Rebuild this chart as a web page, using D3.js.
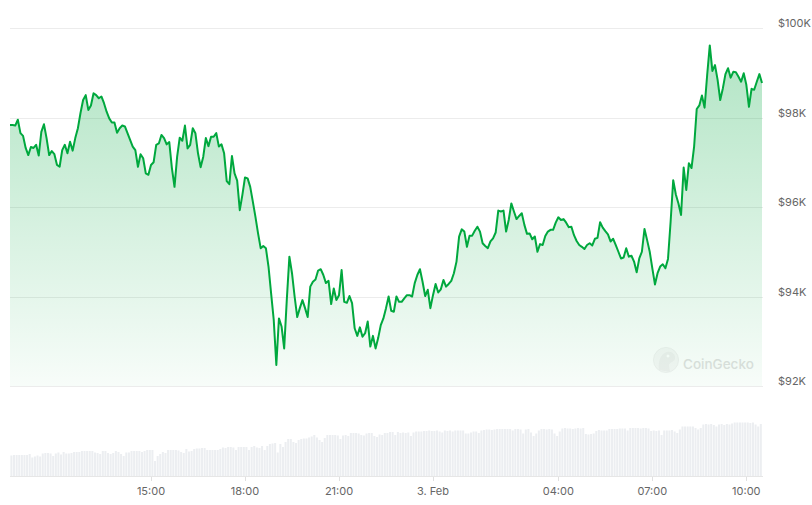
<!DOCTYPE html>
<html>
<head>
<meta charset="utf-8">
<script src="https://cdn.jsdelivr.net/npm/d3@7"></script>
<style>
  body { margin: 0; background: #fff; }
  text { font-family: Inter, "Noto Sans", sans-serif; }
</style>
</head>
<body>
<div id="chart"></div>
<script>
// BTC price, 5 minute steps from 2 Feb 10:30 to 3 Feb 10:30
var prices = [
  97830, 97830, 97820, 97950, 97650, 97590, 97320, 97160, 97340, 97320,
  97390, 97150, 97680, 97850, 97540, 97160, 97250, 97180, 96940, 96900,
  97270, 97390, 97200, 97460, 97260, 97540, 97760, 98100, 98390, 98500,
  98170, 98270, 98540, 98500, 98430, 98470, 98320, 98130, 97980, 97890,
  97890, 97660, 97760, 97820, 97800, 97650, 97500, 97350, 97270, 96900,
  97180, 97090, 96750, 96720, 96940, 97000, 97390, 97420, 97610, 97540,
  97400, 97450, 96870, 96450, 97120, 97550, 97480, 97820, 97310, 97390,
  97760, 97650, 97200, 96890, 97120, 97540, 97360, 97570, 97570, 97650,
  97350, 97400, 97200, 96580, 96510, 97140, 96750, 96590, 95930, 96270,
  96660, 96640, 96450, 96120, 95780, 95410, 95080, 95130, 95080, 94670,
  94070, 93480, 92470, 93510, 93330, 92840, 93920, 94890, 94520, 94000,
  93540, 93740, 93920, 93740, 93540, 94220, 94330, 94380, 94580, 94610,
  94480, 94300, 94350, 93830, 94180, 93920, 94030, 94590, 93880, 93860,
  94010, 93850, 93290, 93120, 93310, 93100, 93180, 93440, 92880, 93120,
  92840, 93070, 93360, 93510, 93740, 94000, 93680, 93660, 94000, 93880,
  93880, 93960, 94030, 94030, 94000, 94300, 94480, 94610, 94330, 94010,
  94150, 93740, 94030, 94280, 94090, 94160, 94370, 94220, 94280, 94350,
  94520, 94780, 95340, 95500, 95450, 95110, 95360, 95360, 95470, 95560,
  95450, 95190, 95130, 95080, 95230, 95300, 95430, 95920, 95900, 95920,
  95450, 95710, 96080, 95900, 95730, 95800, 95860, 95600, 95400, 95410,
  95280, 95340, 95000, 95170, 95150, 95350, 95450, 95490, 95490, 95650,
  95770, 95710, 95730, 95650, 95550, 95560, 95370, 95240, 95150, 95110,
  95060, 95150, 95190, 95140, 95290, 95310, 95660, 95540, 95460, 95390,
  95230, 95290, 95150, 95000, 94850, 94870, 95080, 94890, 94910, 94780,
  94540, 94850, 95000, 95510, 95260, 95000, 94630, 94270, 94520, 94670,
  94720, 94630, 94840, 95670, 96600, 96280, 96080, 95820, 96880, 96380,
  96980, 96870, 97350, 98190, 98270, 98490, 98220, 98950, 99610, 99040,
  99170, 98840, 98390, 98650, 98970, 99100, 98890, 99020, 99010, 98910,
  98800, 98990, 98730, 98240, 98640, 98620, 98800, 98970, 98770
];

// 24h volume (billion USD), one bar per 5 minutes
var volumes = [
  42, 43, 43, 43, 43, 43, 43, 45, 38, 40,
  42, 40, 46, 47, 47, 46, 41, 46, 48, 44,
  49, 46, 46, 47, 49, 49, 49, 51, 51, 51,
  51, 51, 48, 47, 45, 51, 51, 47, 45, 47,
  51, 49, 45, 41, 48, 48, 51, 51, 51, 51,
  49, 51, 53, 53, 53, 31, 41, 45, 49, 47,
  53, 53, 53, 53, 52, 49, 47, 55, 50, 51,
  55, 56, 56, 57, 57, 53, 53, 53, 53, 53,
  55, 58, 57, 59, 59, 58, 53, 59, 59, 59,
  59, 53, 59, 61, 58, 57, 61, 53, 61, 65,
  66, 67, 48, 65, 59, 69, 75, 75, 69, 67,
  73, 75, 76, 76, 78, 80, 83, 78, 73, 69,
  77, 83, 83, 83, 83, 82, 75, 82, 83, 81,
  87, 87, 87, 86, 83, 82, 86, 87, 87, 81,
  79, 84, 83, 87, 87, 89, 89, 83, 89, 87,
  88, 87, 88, 81, 88, 90, 90, 90, 91, 91,
  92, 91, 91, 92, 90, 88, 92, 91, 92, 90,
  92, 92, 92, 92, 86, 86, 88, 90, 90, 87,
  92, 93, 94, 94, 93, 94, 95, 95, 95, 95,
  95, 95, 92, 95, 95, 94, 86, 94, 95, 88,
  81, 86, 92, 95, 95, 94, 95, 94, 86, 81,
  90, 96, 97, 96, 96, 95, 96, 97, 96, 97,
  85, 84, 85, 86, 91, 93, 92, 92, 92, 95,
  95, 95, 95, 96, 96, 96, 92, 97, 97, 97,
  97, 96, 97, 97, 96, 91, 92, 91, 92, 83,
  92, 92, 92, 93, 90, 87, 94, 100, 100, 100,
  100, 100, 97, 94, 97, 104, 105, 104, 105, 103,
  100, 104, 105, 103, 105, 104, 106, 108, 108, 108,
  108, 108, 108, 107, 108, 104, 100, 105
];

var yTicks = [92000, 94000, 96000, 98000, 100000];
var xTickTimes = ["2025-02-02T15:00", "2025-02-02T18:00", "2025-02-02T21:00",
  "2025-02-03T00:00", "2025-02-03T04:00", "2025-02-03T07:00", "2025-02-03T10:00"];
var xTickLabels = ["15:00", "18:00", "21:00", "3. Feb", "04:00", "07:00", "10:00"];

var startTime = new Date("2025-02-02T10:30");
var endTime = new Date("2025-02-03T10:30");
var step = 5 * 60 * 1000;

var svgWidth = 812;
var svgHeight = 505;

var svg = d3
  .select("#chart")
  .append("svg")
  .attr("width", svgWidth)
  .attr("height", svgHeight);

var xScale = d3.scaleTime().domain([startTime, endTime]).range([10, 762]);
var yScale = d3.scaleLinear().domain([92000, 100000]).range([386, 28]);
var volScale = d3.scaleLinear().domain([0, 150]).range([476.5, 401.5]);

var timeAt = (i) => new Date(startTime.getTime() + i * step);

var defs = svg.append("defs");
var grad = defs
  .append("linearGradient")
  .attr("id", "fillGrad")
  .attr("gradientUnits", "userSpaceOnUse")
  .attr("x1", 0)
  .attr("y1", 28)
  .attr("x2", 0)
  .attr("y2", 386);
grad.append("stop").attr("offset", "0%").attr("stop-color", "#00a83e").attr("stop-opacity", 0.32);
grad.append("stop").attr("offset", "100%").attr("stop-color", "#00a83e").attr("stop-opacity", 0.03);

// grid lines + right labels
svg
  .append("g")
  .selectAll("line")
  .data(yTicks)
  .enter()
  .append("line")
  .attr("x1", 10)
  .attr("x2", 763)
  .attr("y1", (d) => Math.round(yScale(d)) + 0.5)
  .attr("y2", (d) => Math.round(yScale(d)) + 0.5)
  .attr("stroke", "#ececec")
  .attr("stroke-width", 1);

svg
  .append("g")
  .selectAll("text")
  .data(yTicks)
  .enter()
  .append("text")
  .attr("x", 778)
  .attr("y", (d) => yScale(d) - 1)
  .attr("font-size", "11px")
  .attr("fill", "#666")
  .text((d) => "$" + d / 1000 + "K");

// watermark
var mark = svg.append("g").attr("opacity", 0.5);
mark.append("circle").attr("cx", 666).attr("cy", 360).attr("r", 12.5).attr("fill", "#f1f1f1").attr("stroke", "#e4e4e4");
mark.append("path").attr("d", "M659,370 C658,362 660,354 667,352 C672,351 676,355 675,359 C674,362 670,362 669,365 L670,372 Z").attr("fill", "#e2e2e2");
mark.append("circle").attr("cx", 668).attr("cy", 356).attr("r", 1.5).attr("fill", "#fff");
mark
  .append("text")
  .attr("x", 683)
  .attr("y", 369)
  .attr("font-size", "13.5px")
  .attr("font-weight", 500)
  .attr("fill", "#c4c4c4")
  .text("CoinGecko");

// area + line
var area = d3
  .area()
  .x((d, i) => xScale(timeAt(i)))
  .y0(386)
  .y1((d) => yScale(d));

var line = d3
  .line()
  .x((d, i) => xScale(timeAt(i)))
  .y((d) => yScale(d));

svg.append("path").datum(prices).attr("d", area).attr("fill", "url(#fillGrad)");

svg
  .append("path")
  .datum(prices)
  .attr("d", line)
  .attr("fill", "none")
  .attr("stroke", "#00a83e")
  .attr("stroke-width", 2)
  .attr("stroke-linejoin", "round");

// volume bars
var barStep = xScale(timeAt(1)) - xScale(timeAt(0));
svg
  .append("g")
  .selectAll("rect")
  .data(volumes)
  .enter()
  .append("rect")
  .attr("x", (d, i) => xScale(timeAt(i)) + 0.4)
  .attr("width", barStep - 0.6)
  .attr("y", (d) => volScale(d))
  .attr("height", (d) => volScale(0) - volScale(d))
  .attr("fill", "#eceef1");

// x axis
svg
  .append("line")
  .attr("x1", 10)
  .attr("x2", 763)
  .attr("y1", 476.5)
  .attr("y2", 476.5)
  .attr("stroke", "#e6e6e6");

var xAxis = svg.append("g");
xAxis
  .selectAll("line")
  .data(xTickTimes)
  .enter()
  .append("line")
  .attr("x1", (d) => Math.round(xScale(new Date(d))) + 0.5)
  .attr("x2", (d) => Math.round(xScale(new Date(d))) + 0.5)
  .attr("y1", 477)
  .attr("y2", 481)
  .attr("stroke", "#e0e0e0");

xAxis
  .selectAll("text")
  .data(xTickTimes)
  .enter()
  .append("text")
  .attr("x", (d) => xScale(new Date(d)))
  .attr("y", 495)
  .attr("text-anchor", "middle")
  .attr("font-size", "11px")
  .attr("fill", "#666")
  .text((d, i) => xTickLabels[i]);
</script>
</body>
</html>
